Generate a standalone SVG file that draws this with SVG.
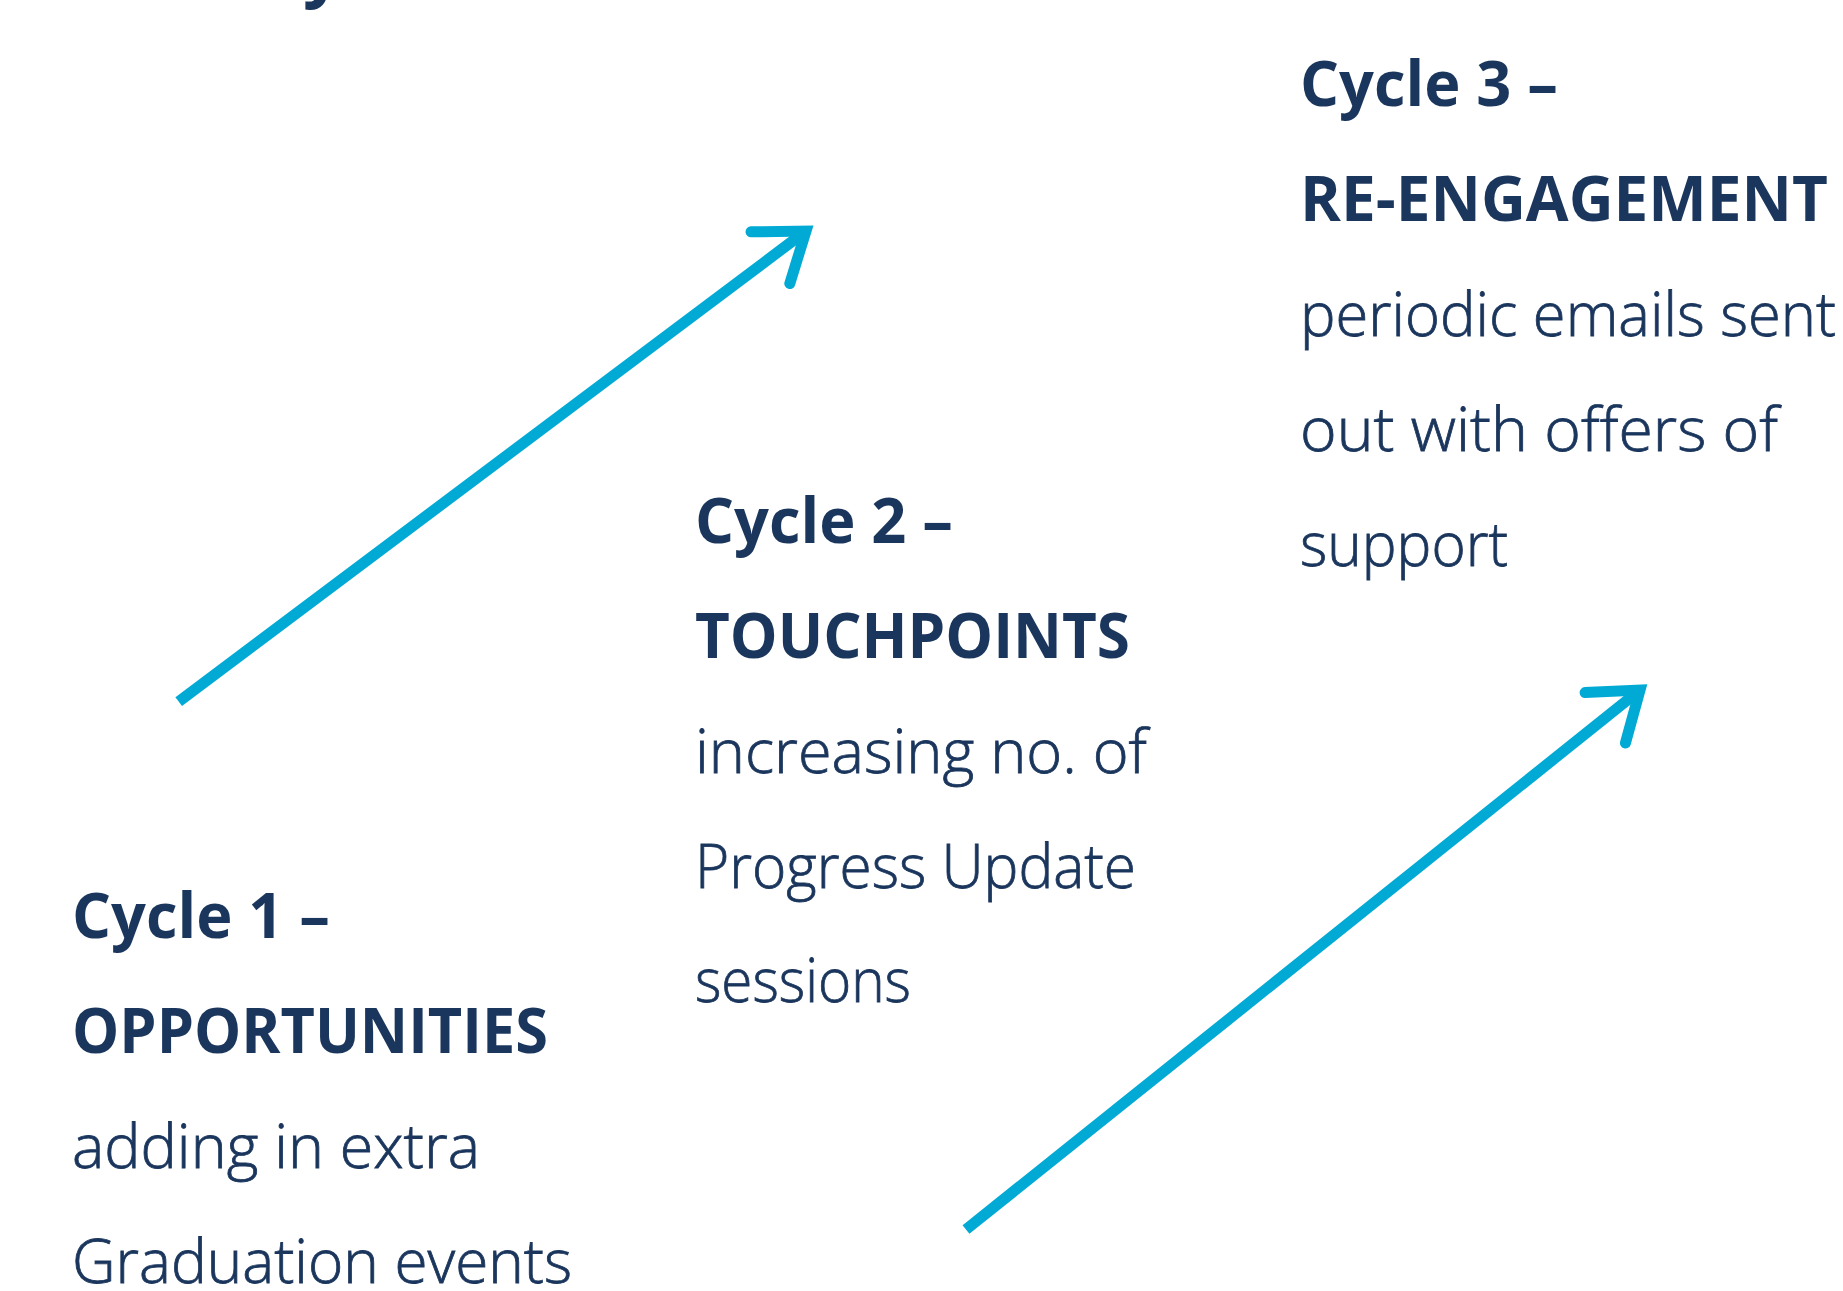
<svg xmlns="http://www.w3.org/2000/svg" width="1843" height="1291" viewBox="0 0 1843 1291">
  <style>
    .t { font-family: "Open Sans", "Noto Sans", "DejaVu Sans", sans-serif; fill: #1b365d; }
    .b { font-size: 62px; font-weight: 700; }
    .r { font-size: 60px; font-weight: 300; stroke: #1b365d; stroke-width: 0.8px; }
    .arrow { fill: none; stroke: #00aad5; stroke-width: 11; stroke-linecap: butt; }
  </style>
  <defs>
    <marker id="head" markerUnits="userSpaceOnUse" viewBox="-60 -45 70 90" refX="0" refY="0" markerWidth="70" markerHeight="90" orient="auto" overflow="visible">
      <path d="M-44.5,-32.3 L0,0 L-44.5,32.3" fill="none" stroke="#00aad5" stroke-width="11" stroke-linecap="round" stroke-linejoin="miter"/>
    </marker>
  </defs>
  <rect width="1843" height="1291" fill="#ffffff"/>

  <g id="title-fragment">
    <text class="t" x="303" y="-7" font-size="70" font-weight="700">y</text>
  </g>

  <g id="connectors">
    <line class="arrow" x1="178.7" y1="701.7" x2="806" y2="231" marker-end="url(#head)"/>
    <line class="arrow" x1="966" y1="1229.5" x2="1640" y2="690" marker-end="url(#head)"/>
  </g>

  <g id="cycle1">
    <text class="t b" x="72" y="938" textLength="258" lengthAdjust="spacingAndGlyphs">Cycle 1 –</text>
    <text class="t b" x="72" y="1053" textLength="476" lengthAdjust="spacingAndGlyphs">OPPORTUNITIES</text>
    <text class="t r" x="72" y="1168" textLength="408" lengthAdjust="spacingAndGlyphs">adding in extra</text>
    <text class="t r" x="72" y="1283" textLength="500" lengthAdjust="spacingAndGlyphs">Graduation events</text>
  </g>

  <g id="cycle2">
    <text class="t b" x="695" y="543" textLength="258" lengthAdjust="spacingAndGlyphs">Cycle 2 –</text>
    <text class="t b" x="695" y="658" textLength="435" lengthAdjust="spacingAndGlyphs">TOUCHPOINTS</text>
    <text class="t r" x="695" y="773" textLength="452" lengthAdjust="spacingAndGlyphs">increasing no. of</text>
    <text class="t r" x="695" y="888" textLength="441" lengthAdjust="spacingAndGlyphs">Progress Update</text>
    <text class="t r" x="695" y="1002" textLength="216" lengthAdjust="spacingAndGlyphs">sessions</text>
  </g>

  <g id="cycle3">
    <text class="t b" x="1300" y="106" textLength="258" lengthAdjust="spacingAndGlyphs">Cycle 3 –</text>
    <text class="t b" x="1300" y="221" textLength="528" lengthAdjust="spacingAndGlyphs">RE-ENGAGEMENT</text>
    <text class="t r" x="1300" y="336" textLength="536" lengthAdjust="spacingAndGlyphs">periodic emails sent</text>
    <text class="t r" x="1300" y="451" textLength="478" lengthAdjust="spacingAndGlyphs">out with offers of</text>
    <text class="t r" x="1300" y="566" textLength="208" lengthAdjust="spacingAndGlyphs">support</text>
  </g>
</svg>
